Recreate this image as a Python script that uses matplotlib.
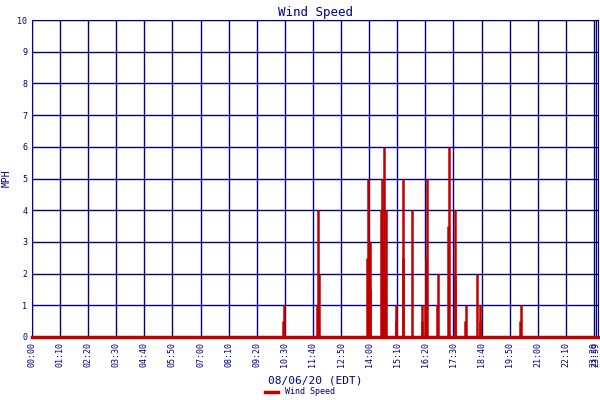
import matplotlib
matplotlib.use("Agg")
import matplotlib.pyplot as plt

# minutes since midnight, mph
times = [626, 629, 710, 712, 714, 834, 836, 841, 842, 869, 871, 874, 876, 879, 881,
         906, 908, 924, 925, 946, 971, 972, 978, 982, 984, 1009, 1011, 1036, 1038,
         1053, 1055, 1078, 1080, 1108, 1115, 1117, 1215, 1217]
speeds = [0.5, 1, 1, 4, 2, 2.5, 5, 1.5, 3, 4, 5, 3, 6, 2, 4,
          1, 0.5, 5, 2.5, 4, 1, 0.5, 1, 2.5, 5, 1, 2, 3.5, 6,
          2, 4, 0.5, 1, 2, 1, 0.5, 0.5, 1]
tick_minutes = list(range(0, 1401, 70))
tick_labels = [f"{m//60:02d}:{m%60:02d}" for m in tick_minutes]

navy = "#000080"
red = "#c00000"
plt.rcParams['font.family'] = ['DejaVu Sans Mono']

fig = plt.figure(figsize=(6, 4), dpi=100)
ax = fig.add_axes([32/600, 1-337/400, 566/600, 317/400])
ax.set_xlim(0, 1410)
ax.set_ylim(0, 10)
ax.set_xticks(tick_minutes + [1404])
ax.set_xticklabels(tick_labels + ["23:59"], rotation=90, fontsize=6, color=navy)
ax.set_yticks(range(0, 11))
ax.tick_params(axis='y', labelsize=6, labelcolor=navy, length=0)
ax.tick_params(axis='x', length=0)
ax.grid(True, color=navy, lw=1)
ax.set_axisbelow(True)
for s in ax.spines.values():
    s.set_color(navy)
ax.vlines(times, 0, speeds, color=red, lw=1.8, zorder=3)
ax.plot([0, 1410], [0, 0], color=red, lw=2.5, zorder=3, label="Wind Speed", clip_on=False)
ax.set_title("Wind Speed", color=navy, fontsize=9, pad=3)
ax.set_ylabel("MPH", color=navy, fontsize=7)
ax.set_xlabel("08/06/20 (EDT)", color=navy, fontsize=8, labelpad=6)
fig.legend(loc="lower center", bbox_to_anchor=(0.5, -0.01), frameon=False,
           fontsize=6, labelcolor=navy, handlelength=1.5)
fig.savefig("out.png", dpi=100)
